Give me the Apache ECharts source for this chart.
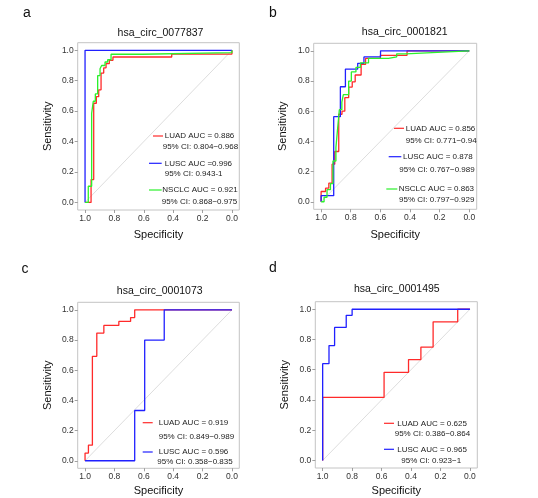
<!DOCTYPE html>
<html><head><meta charset="utf-8">
<script src="https://cdn.jsdelivr.net/npm/echarts@6/dist/echarts.min.js"></script>
<style>html,body{margin:0;padding:0;background:#fff}#c{width:538px;height:498px}</style>
</head><body><div id="c"></div>
<script>
// ---- Data (specificity, sensitivity vertices of ROC step curves) ----
const tickValues = [0, 0.2, 0.4, 0.6, 0.8, 1.0];
const titles = ['hsa_circ_0077837', 'hsa_circ_0001821', 'hsa_circ_0001073', 'hsa_circ_0001495'];

const aLuadSpec = [1, 0.959, 0.959, 0.941, 0.941, 0.923, 0.923, 0.907, 0.907, 0.891, 0.891, 0.873, 0.873, 0.857, 0.857, 0.835, 0.835, 0.81, 0.81, 0.41, 0.41, 0, 0];
const aLuadSens = [0, 0, 0.15, 0.15, 0.652, 0.652, 0.695, 0.695, 0.74, 0.74, 0.85, 0.85, 0.885, 0.885, 0.912, 0.912, 0.934, 0.934, 0.956, 0.956, 0.975, 0.975, 1];
const aLuscSpec = [1, 1, 0];
const aLuscSens = [0, 1, 1];
const aNscSpec = [1, 0.978, 0.978, 0.955, 0.955, 0.944, 0.944, 0.93, 0.93, 0.914, 0.914, 0.898, 0.898, 0.887, 0.887, 0.864, 0.864, 0.846, 0.846, 0.823, 0.823, 0.609, 0.609, 0, 0];
const aNscSens = [0, 0, 0.106, 0.106, 0.585, 0.585, 0.665, 0.665, 0.713, 0.713, 0.834, 0.834, 0.879, 0.879, 0.90, 0.90, 0.923, 0.923, 0.938, 0.938, 0.974, 0.974, 0.985, 0.985, 1];

const bLuadSpec = [1, 1, 0.97, 0.97, 0.948, 0.948, 0.926, 0.926, 0.908, 0.908, 0.881, 0.881, 0.859, 0.859, 0.84, 0.84, 0.814, 0.814, 0.79, 0.79, 0.77, 0.77, 0.73, 0.73, 0.70, 0.70, 0.60, 0.60, 0.42, 0.42, 0];
const bLuadSens = [0, 0.068, 0.068, 0.09, 0.09, 0.123, 0.123, 0.249, 0.249, 0.333, 0.333, 0.58, 0.58, 0.60, 0.60, 0.69, 0.69, 0.76, 0.76, 0.795, 0.795, 0.84, 0.84, 0.91, 0.91, 0.95, 0.95, 0.97, 0.97, 1, 1];
const bLuscSpec = [1, 1, 0.915, 0.915, 0.87, 0.87, 0.836, 0.836, 0.753, 0.753, 0.711, 0.711, 0.599, 0.599, 0];
const bLuscSens = [0, 0.04, 0.04, 0.564, 0.564, 0.762, 0.762, 0.879, 0.879, 0.917, 0.917, 0.96, 0.96, 1, 1];
const bNscSpec = [1, 0.98, 0.98, 0.96, 0.96, 0.937, 0.937, 0.92, 0.92, 0.90, 0.90, 0.89, 0.89, 0.877, 0.877, 0.86, 0.86, 0.85, 0.85, 0.814, 0.814, 0.796, 0.796, 0.765, 0.765, 0.735, 0.735, 0.68, 0.68, 0.545, 0.545, 0.49, 0.49, 0.43, 0.43, 0];
const bNscSens = [0, 0, 0.03, 0.03, 0.08, 0.08, 0.12, 0.12, 0.27, 0.27, 0.36, 0.36, 0.47, 0.47, 0.61, 0.61, 0.66, 0.66, 0.71, 0.71, 0.80, 0.80, 0.86, 0.86, 0.89, 0.89, 0.92, 0.92, 0.95, 0.95, 0.96, 0.96, 0.98, 0.98, 0.99, 1];

const cLuadSpec = [1, 1, 0.977, 0.977, 0.95, 0.95, 0.92, 0.92, 0.872, 0.872, 0.77, 0.77, 0.69, 0.69, 0.662, 0.662, 0];
const cLuadSens = [0, 0.051, 0.051, 0.103, 0.103, 0.692, 0.692, 0.846, 0.846, 0.897, 0.897, 0.923, 0.923, 0.949, 0.949, 1, 1];
const cLuscSpec = [1, 0.662, 0.662, 0.594, 0.594, 0.461, 0.461, 0];
const cLuscSens = [0, 0, 0.333, 0.333, 0.8, 0.8, 1, 1];

const dLuadSpec = [1, 1, 0.583, 0.583, 0.417, 0.417, 0.333, 0.333, 0.25, 0.25, 0.083, 0.083, 0];
const dLuadSens = [0, 0.417, 0.417, 0.583, 0.583, 0.667, 0.667, 0.75, 0.75, 0.917, 0.917, 1, 1];
const dLuscSpec = [1, 1, 0.957, 0.957, 0.919, 0.919, 0.84, 0.84, 0.80, 0.80, 0];
const dLuscSens = [0, 0.64, 0.64, 0.76, 0.76, 0.88, 0.88, 0.96, 0.96, 1, 1];

const legendTexts = [
  [['LUAD AUC = 0.886', '95% CI: 0.804\u22120.968'], ['LUSC AUC =0.996', '95% CI: 0.943-1'], ['NSCLC AUC = 0.921', '95% CI: 0.868\u22120.975']],
  [['LUAD AUC = 0.856', '95% CI: 0.771\u22120.94'], ['LUSC AUC = 0.878', '95% CI: 0.767\u22120.989'], ['NSCLC AUC = 0.863', '95% CI: 0.797\u22120.929']],
  [['LUAD AUC = 0.919', '95% CI: 0.849\u22120.989'], ['LUSC AUC = 0.596', '95% CI: 0.358\u22120.835']],
  [['LUAD AUC = 0.625', '95% CI: 0.386\u22120.864'], ['LUSC AUC = 0.965', '95% CI: 0.923\u22121']]
];

// ---- Layout ----
const RED = '#ff2a2a', BLUE = '#2020ff', GREEN = '#2cf02c';
const FONT = 'Liberation Sans, Arial, sans-serif';
const grids = [
  {left: 77.7, top: 42.7, width: 161.6, height: 167.3},
  {left: 313.7, top: 43.3, width: 163, height: 166},
  {left: 77.7, top: 302.3, width: 161.6, height: 166},
  {left: 315.3, top: 301.7, width: 162, height: 166.3}
];
const xNameGap = [19.5, 20, 17, 17];
const yNameGap = [24, 25, 24, 24.5];
const titlePos = [[160.5, 28], [404.7, 27], [159.7, 285.5], [396.8, 284]];
const letters = [['a', 27, 13], ['b', 273, 13], ['c', 25, 269], ['d', 273, 268]];
// legend layout: [lineX1, lineX2, lineY, textX, ciX, ciY]
const legendLayout = [
  [[153, 163, 136, 164.7, 162.7, 146.7], [149, 161.7, 163.3, 164.7, 164.7, 174], [149, 161.7, 190, 162.3, 161.7, 201.7]],
  [[394, 404, 128.3, 405.7, 405.7, 141], [388.7, 401.3, 156.7, 403, 399.3, 169.3], [386.3, 397.3, 189, 398.7, 399, 200]],
  [[142.7, 152.7, 422.7, 158.7, 158.7, 436.7], [142.7, 152.7, 452, 158.7, 157.3, 461.3]],
  [[384, 394, 423.3, 397.3, 394.7, 433.7], [384, 394, 449.3, 397.3, 401.3, 460.3]]
];
const legendColors = [[RED, BLUE, GREEN], [RED, BLUE, GREEN], [RED, BLUE], [RED, BLUE]];

const panels = [
  [[aLuadSpec, aLuadSens, RED], [aLuscSpec, aLuscSens, BLUE], [aNscSpec, aNscSens, GREEN]],
  [[bLuadSpec, bLuadSens, RED], [bLuscSpec, bLuscSens, BLUE], [bNscSpec, bNscSens, GREEN]],
  [[cLuadSpec, cLuadSens, RED], [cLuscSpec, cLuscSens, BLUE]],
  [[dLuadSpec, dLuadSens, RED], [dLuscSpec, dLuscSens, BLUE]]
];

const zip = (xs, ys) => xs.map((x, i) => [x, ys[i]]);

const option = {
  animation: false,
  backgroundColor: '#fff',
  grid: grids.map(g => Object.assign({show: true, borderColor: '#c4c4c4', borderWidth: 1, backgroundColor: 'transparent'}, g)),
  title: titles.map((t, i) => ({
    text: t, left: titlePos[i][0], top: titlePos[i][1], textAlign: 'center', padding: 0,
    textStyle: {fontSize: 10.5, fontWeight: 'normal', color: '#111', fontFamily: FONT}
  })),
  xAxis: grids.map((g, i) => ({
    gridIndex: i, type: 'value', min: -0.05, max: 1.05, inverse: true, position: 'bottom',
    name: 'Specificity', nameLocation: 'middle', nameGap: xNameGap[i],
    nameTextStyle: {fontSize: 11, color: '#111', fontFamily: FONT},
    axisLine: {show: false, onZero: false}, splitLine: {show: false},
    axisTick: {show: true, customValues: tickValues, length: 3, lineStyle: {color: '#888', width: 0.8}},
    axisLabel: {customValues: tickValues, formatter: v => v.toFixed(1), fontSize: 8.5, color: '#333', margin: 4, fontFamily: FONT}
  })),
  yAxis: grids.map((g, i) => ({
    gridIndex: i, type: 'value', min: -0.05, max: 1.05, position: 'left',
    name: 'Sensitivity', nameLocation: 'middle', nameGap: yNameGap[i],
    nameTextStyle: {fontSize: 11, color: '#111', fontFamily: FONT},
    axisLine: {show: false, onZero: false}, splitLine: {show: false},
    axisTick: {show: true, customValues: tickValues, length: 3, lineStyle: {color: '#888', width: 0.8}},
    axisLabel: {customValues: tickValues, formatter: v => v.toFixed(1), fontSize: 8.5, color: '#333', margin: 4, fontFamily: FONT}
  })),
  series: [],
  graphic: []
};

panels.forEach((p, i) => {
  option.series.push({
    type: 'line', xAxisIndex: i, yAxisIndex: i, data: [[1, 0], [0, 1]],
    symbol: 'none', silent: true, lineStyle: {color: '#d4d4d4', width: 0.8}
  });
  p.forEach(([sx, sy, col]) => {
    option.series.push({
      type: 'line', xAxisIndex: i, yAxisIndex: i, data: zip(sx, sy),
      symbol: 'none', lineStyle: {color: col, width: 1.3}, z: 3
    });
  });
  legendLayout[i].forEach((L, j) => {
    const [x1, x2, ly, tx, cx, cy] = L;
    option.graphic.push({type: 'line', shape: {x1: x1, y1: ly, x2: x2, y2: ly}, style: {stroke: legendColors[i][j], lineWidth: 1.2}});
    option.graphic.push({type: 'text', style: {x: tx, y: ly, text: legendTexts[i][j][0], font: '8px ' + FONT, fill: '#222', verticalAlign: 'middle', align: 'left'}});
    option.graphic.push({type: 'text', style: {x: cx, y: cy, text: legendTexts[i][j][1], font: '8px ' + FONT, fill: '#222', verticalAlign: 'middle', align: 'left'}});
  });
});
letters.forEach(([t, x, y]) => {
  option.graphic.push({type: 'text', style: {x: x, y: y, text: t, font: '14px ' + FONT, fill: '#111', align: 'center', verticalAlign: 'middle'}});
});

const chart = echarts.init(document.getElementById('c'), null, {renderer: 'canvas'});
chart.setOption(option);
</script>
</body></html>
